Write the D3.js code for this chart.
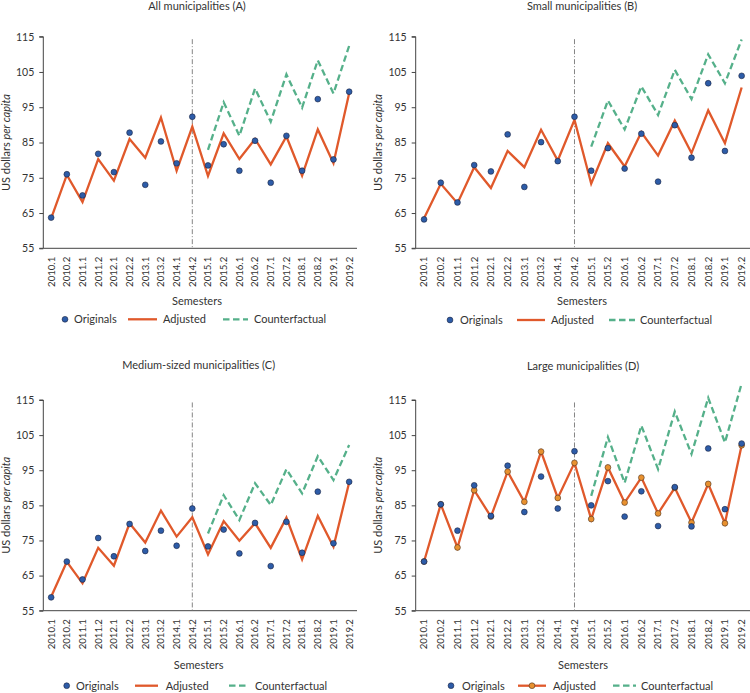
<!DOCTYPE html>
<html><head><meta charset="utf-8">
<script src="https://cdn.jsdelivr.net/npm/d3@7"></script>
<style>body{margin:0;background:#fff} text{font-family:Lato,"Open Sans",sans-serif;fill:#333}</style>
</head><body><svg id="c" width="750" height="693"></svg>
<script>
const semesters = ["2010.1","2010.2","2011.1","2011.2","2012.1","2012.2","2013.1","2013.2","2014.1","2014.2",
  "2015.1","2015.2","2016.1","2016.2","2017.1","2017.2","2018.1","2018.2","2019.1","2019.2"];
const cfSemesters = semesters.slice(10);
const yTicks = [55,65,75,85,95,105,115];
const breakSemester = "2014.2";
const titles = ["All municipalities (A)","Small municipalities (B)","Medium-sized municipalities (C)","Large municipalities (D)"];

const origA = [63.7,76.0,70.0,81.8,76.6,87.8,73.0,85.3,79.1,92.3,78.5,84.5,77.0,85.5,73.6,86.9,77.0,97.3,80.2,99.4];
const adjA  = [63.5,75.8,68.1,80.3,74.2,86.0,80.7,92.1,77.0,89.5,75.5,87.6,80.3,86.0,78.8,86.7,75.6,88.7,79.1,99.0];
const cfA   = [82.9,96.4,86.9,100.3,90.9,104.3,94.9,108.3,98.9,112.4];

const origB = [63.2,73.6,68.0,78.6,76.8,87.3,72.4,85.1,79.7,92.3,77.0,83.4,77.6,87.5,73.9,89.9,80.7,101.8,82.6,103.9];
const adjB  = [63.5,73.3,67.8,78.0,72.1,82.6,78.0,88.6,79.9,91.4,73.3,84.8,78.2,87.9,81.3,91.2,82.0,94.1,84.8,100.6];
const cfB   = [83.8,96.9,88.7,100.9,92.8,105.6,97.3,110.0,101.8,114.2];

const origC = [58.8,69.0,63.9,75.7,70.5,79.7,72.0,77.8,73.5,84.1,73.3,78.1,71.3,80.0,67.7,80.3,71.5,88.9,74.2,91.7];
const adjC  = [59.0,68.9,62.8,72.9,67.8,79.9,74.4,83.5,76.1,81.6,71.0,80.5,74.9,79.9,72.9,81.5,69.6,82.0,73.2,91.5];
const cfC   = [77.0,87.9,80.8,91.3,85.1,95.3,88.4,99.0,92.2,102.2];

const origD = [69.0,85.3,77.8,90.7,82.0,96.3,83.1,93.2,84.1,100.4,85.0,91.9,81.8,89.0,79.1,90.2,79.0,101.2,83.9,102.6];
const adjD  = [69.0,85.3,73.0,89.3,81.8,94.6,86.0,100.3,87.1,97.1,81.1,95.8,85.8,92.9,82.7,90.0,80.1,91.1,79.9,102.1];
const cfD   = [87.7,104.4,91.4,107.7,95.3,111.7,99.6,115.6,102.9,119.7];

const BLUE = "#2d5ca8", ORANGE = "#e0592b", GREEN = "#55b08a", ADJPT = "#e8912f";

const panels = [
  {title:titles[0], orig:origA, adj:adjA, cf:cfA, adjPts:false, x0:43.3, x1:357, yTop:36.7, yBot:248.3, titleY:6, semY:300.7, legY:319.3,
   leg:{c:65, t1:74, l1:[128,157], t2:163, l2:[223,248], t3:254}},
  {title:titles[1], orig:origB, adj:adjB, cf:cfB, adjPts:false, x0:415.7, x1:750, yTop:36.7, yBot:248.3, titleY:6, semY:300.7, legY:320,
   leg:{c:450, t1:460, l1:[517,545], t2:551, l2:[609,635], t3:640}},
  {title:titles[2], orig:origC, adj:adjC, cf:cfC, adjPts:false, x0:43.3, x1:357, yTop:400, yBot:610.7, titleY:365, semY:665, legY:685.7,
   leg:{c:66.7, t1:76, l1:[135,158], t2:165.7, l2:[229,249], t3:255}},
  {title:titles[3], orig:origD, adj:adjD, cf:cfD, adjPts:true, x0:415.7, x1:750, yTop:400, yBot:610.7, titleY:365.7, semY:665, legY:685.7,
   leg:{c:451, t1:462, l1:[518,546], t2:553, l2:[613,636], t3:641}}
];

const svg = d3.select("#c");

panels.forEach(p => {
  const g = svg.append("g");
  const x = d3.scaleBand().domain(semesters).range([p.x0, p.x1]);
  const cx = s => x(s) + x.bandwidth()/2;
  const y = d3.scaleLinear().domain([55,115]).range([p.yBot, p.yTop]);

  g.append("text").attr("x", p.leg.c + 132).attr("y", p.titleY).attr("dy","0.35em")
    .attr("text-anchor","middle").style("font-size","11px").text(p.title);

  // y axis
  const ya = g.append("g").attr("transform",`translate(${p.x0},0)`)
    .call(d3.axisLeft(y).tickValues(yTicks).tickSize(4).tickPadding(5).tickFormat(d3.format("d")));
  ya.select(".domain").attr("stroke","#444").attr("d",`M-4,${y(115)}H0V${y(55)}H-4`);
  ya.selectAll(".tick line").attr("stroke","#444");
  ya.selectAll(".tick text").style("font-size","10.5px").style("font-family","Lato").attr("fill","#333");

  // x axis
  const xa = g.append("g").attr("transform",`translate(0,${p.yBot})`)
    .call(d3.axisBottom(x).tickSize(0).tickPadding(0));
  xa.select(".domain").attr("stroke","#444").attr("d",`M${p.x0},0H${p.x1}`);
  xa.selectAll(".tick text").style("font-size","9.6px").style("font-family","Lato").attr("fill","#333")
    .attr("text-anchor","end").attr("transform","rotate(-90)").attr("x",-8.5).attr("y",0).attr("dy","0.35em");

  // y label
  const yl = g.append("text").attr("transform",`translate(${p.x0-37.5},${(p.yTop+p.yBot)/2}) rotate(-90)`)
    .attr("text-anchor","middle").attr("dy","0.35em").style("font-size","11px");
  yl.append("tspan").text("US dollars ");
  yl.append("tspan").style("font-style","italic").text("per capita");

  // x label
  g.append("text").attr("x", p.leg.c + 132).attr("y", p.semY).attr("dy","0.35em")
    .attr("text-anchor","middle").style("font-size","11px").text("Semesters");

  // break line
  g.append("line").attr("x1",cx(breakSemester)).attr("x2",cx(breakSemester))
    .attr("y1",y(114.3)).attr("y2",p.yBot)
    .attr("stroke","#777").attr("stroke-width",0.9).attr("stroke-dasharray","5,2,1,2");

  // counterfactual
  const line = d3.line().x(d => cx(d.s)).y(d => y(d.v));
  g.append("path").datum(cfSemesters.map((s,i)=>({s, v:p.cf[i]})))
    .attr("d",line).attr("fill","none").attr("stroke",GREEN).attr("stroke-width",2.3).attr("stroke-dasharray","6.5,3.5");

  // adjusted
  g.append("path").datum(semesters.map((s,i)=>({s, v:p.adj[i]})))
    .attr("d",line).attr("fill","none").attr("stroke",ORANGE).attr("stroke-width",2.3).attr("stroke-linejoin","miter");

  if (p.adjPts) {
    g.selectAll("circle.adj").data(semesters.map((s,i)=>({s, v:p.adj[i]}))).join("circle").attr("class","adj")
      .attr("cx",d=>cx(d.s)).attr("cy",d=>y(d.v)).attr("r",2.9)
      .attr("fill",ADJPT).attr("stroke","#4a3020").attr("stroke-width",0.6);
  }

  g.selectAll("circle.orig").data(semesters.map((s,i)=>({s, v:p.orig[i]}))).join("circle").attr("class","orig")
    .attr("cx",d=>cx(d.s)).attr("cy",d=>y(d.v)).attr("r",2.9)
    .attr("fill",BLUE).attr("stroke","#1b2440").attr("stroke-width",0.6);

  // legend
  const L = p.leg, ly = p.legY;
  const lg = g.append("g");
  lg.append("circle").attr("cx",L.c).attr("cy",ly).attr("r",2.9).attr("fill",BLUE).attr("stroke","#1b2440").attr("stroke-width",0.6);
  lg.append("text").attr("x",L.t1).attr("y",ly).attr("dy","0.35em").style("font-size","11px").text("Originals");
  lg.append("line").attr("x1",L.l1[0]).attr("x2",L.l1[1]).attr("y1",ly).attr("y2",ly).attr("stroke",ORANGE).attr("stroke-width",2.3);
  if (p.adjPts) lg.append("circle").attr("cx",(L.l1[0]+L.l1[1])/2).attr("cy",ly).attr("r",2.9).attr("fill",ADJPT).attr("stroke","#4a3020").attr("stroke-width",0.6);
  lg.append("text").attr("x",L.t2).attr("y",ly).attr("dy","0.35em").style("font-size","11px").text("Adjusted");
  lg.append("line").attr("x1",L.l2[0]).attr("x2",L.l2[1]).attr("y1",ly).attr("y2",ly).attr("stroke",GREEN).attr("stroke-width",2.3).attr("stroke-dasharray","6.5,3.5");
  lg.append("text").attr("x",L.t3).attr("y",ly).attr("dy","0.35em").style("font-size","11px").text("Counterfactual");
});
</script></body></html>
